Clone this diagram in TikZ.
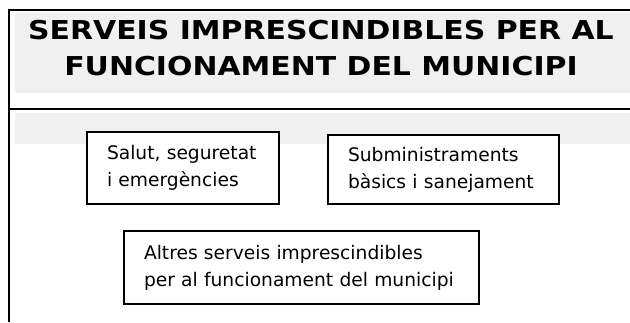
\documentclass[tikz,border=0pt]{standalone}
\usepackage{fontspec}
\setmainfont{DejaVu Sans}
\newfontfamily\titlefont{DejaVu Sans}[FakeStretch=1.15]
\definecolor{bandgrey}{RGB}{240,240,240}
\tikzset{
  frameline/.style={line width=1.5pt},
  svcbox/.style={draw, fill=white, line width=1.5pt, anchor=north west, align=left,
    inner xsep=15pt, inner ysep=0pt, font=\fontsize{14}{20.3}\selectfont},
}
\begin{document}
\begin{tikzpicture}[x=0.75pt, y=-0.75pt]
    \useasboundingbox (0,0) rectangle (630,322);
    % title area
    \fill[bandgrey] (15,13) rectangle (630,93);
    \fill[bandgrey] (15,113) rectangle (630,144);
    \draw[frameline] (9,322) -- (9,10) -- (630,10);
    \draw[frameline] (9,109) -- (630,109);
    \node[font=\titlefont\bfseries\fontsize{19.5}{27}\selectfont, align=center] (title) at (321,48)
      {SERVEIS IMPRESCINDIBLES PER AL\\FUNCIONAMENT DEL MUNICIPI};
    % services
    \node[svcbox, text width=114pt, minimum height=54pt] (salut) at (86,131)
      {Salut, seguretat\\i emergències};
    \node[svcbox, text width=143.25pt, minimum height=51.75pt] (submin) at (327,134)
      {Subministraments\\bàsics i sanejament};
    \node[svcbox, text width=236.25pt, minimum height=54.75pt] (altres) at (123,230)
      {Altres serveis imprescindibles\\per al funcionament del municipi};
\end{tikzpicture}
\end{document}
